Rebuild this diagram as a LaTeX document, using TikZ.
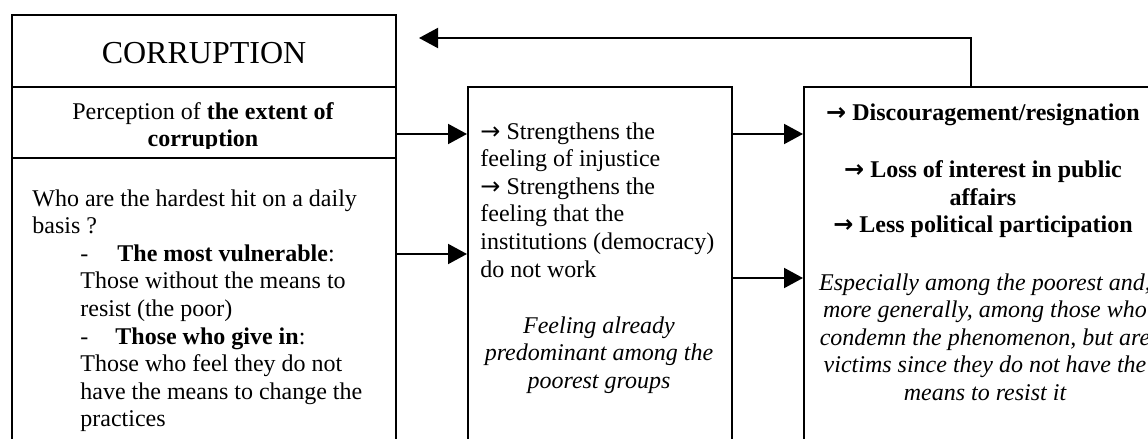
\documentclass[tikz,border=0pt]{standalone}
\usepackage{fontspec}
\setmainfont{Liberation Serif}
\newfontfamily\arrowfont{DejaVu Sans}
\newcommand{\ra}{{\arrowfont →}}
\usetikzlibrary{arrows.meta}
\begin{document}
\begin{tikzpicture}[x=0.5pt,y=-0.5pt,
  box/.style={draw,line width=1pt,inner sep=0,anchor=north west},
  txt/.style={inner sep=0,font=\fontsize{12}{13.8}\selectfont},
  note/.style={txt,align=center,anchor=north,font=\fontsize{12}{13.8}\selectfont\itshape},
  arr/.style={line width=1pt,-{Triangle[length=9.5pt,width=10pt]}}]
\clip (0,0) rectangle (1148,439);
\node[box,minimum width=192pt,minimum height=36pt](corr) at (11,14){};
\node[box,minimum width=192pt,minimum height=35.5pt](perc) at (11,86){};
\node[box,minimum width=192pt,minimum height=160pt](hit) at (11,157){};
\node[box,minimum width=132pt,minimum height=192pt](mid) at (467,86){};
\node[box,minimum width=180pt,minimum height=192pt](res) at (803,86){};
\node[font=\fontsize{16}{19}\selectfont](corrtxt) at ([yshift=-1pt]corr.center){CORRUPTION};
\begin{scope}
\clip (11,86) rectangle (395,148);
\node[txt,align=center,anchor=north](perctxt) at (203,102){Perception of \textbf{the extent of}\\\textbf{corruption}};
\end{scope}
\node[txt,align=left,anchor=north west](hittxt) at (32,189){Who are the hardest hit on a daily\\basis ?\\
  \hspace*{24pt}\makebox[18.5pt][l]{-}\textbf{The most vulnerable}:\\
  \hspace*{24pt}Those without the means to\\
  \hspace*{24pt}resist (the poor)\\
  \hspace*{24pt}\makebox[17.5pt][l]{-}\textbf{Those who give in}:\\
  \hspace*{24pt}Those who feel they do not\\
  \hspace*{24pt}have the means to change the\\
  \hspace*{24pt}practices};
\node[txt,align=left,anchor=north west](midtxt) at (480,122){\ra{} Strengthens the\\feeling of injustice\\\ra{} Strengthens the\\feeling that the\\institutions (democracy)\\do not work};
\node[note](midnote) at (599,316){Feeling already\\predominant among the\\poorest groups};
\node[txt,align=center,anchor=north,font=\fontsize{12}{13.8}\selectfont\bfseries](restxt) at (983,103){\ra{} Discouragement/resignation\\[15pt]\ra{} Loss of interest in public\\affairs\\\ra{} Less political participation};
\node[note](resnote) at (985,273){Especially among the poorest and,\\more generally, among those who\\condemn the phenomenon, but are\\victims since they do not have the\\means to resist it};
\coordinate (y1) at (0,134);
\coordinate (y2) at (0,254);
\coordinate (y3) at (0,278);
\draw[arr] (perc.east |- y1) -- (mid.west |- y1);
\draw[arr] (hit.east |- y2) -- (mid.west |- y2);
\draw[arr] (mid.east |- y1) -- (res.west |- y1);
\draw[arr] (mid.east |- y3) -- (res.west |- y3);
\coordinate (fb) at (971,38);
\coordinate (fbtip) at (419,38);
\draw[arr] (res.north -| fb) -- (fb) -- (fbtip);
\end{tikzpicture}
\end{document}
